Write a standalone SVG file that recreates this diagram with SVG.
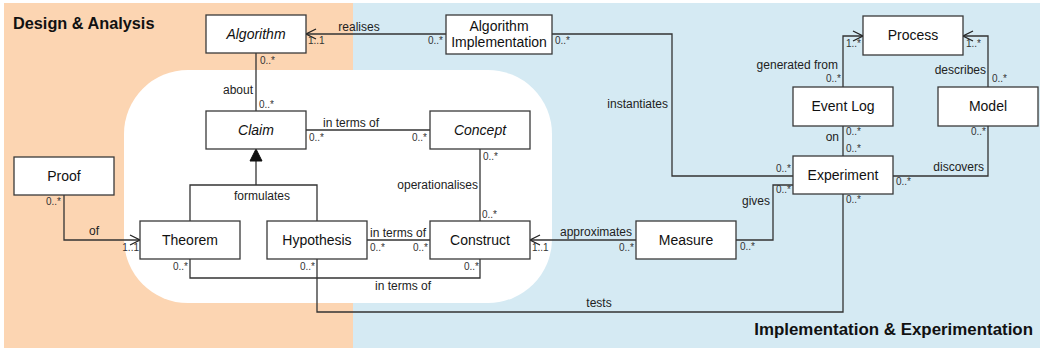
<svg xmlns="http://www.w3.org/2000/svg" width="1043" height="349" viewBox="0 0 1043 349">
  <style>
    .box { fill: #ffffff; stroke: #3a3a3a; stroke-width: 1.3; }
    .name { font-family: "Liberation Sans", Arial, sans-serif; font-size: 14px; fill: #111; text-anchor: middle; }
    .abstract { font-style: italic; }
    .link { fill: none; stroke: #333; stroke-width: 1.3; }
    .role { font-family: "Liberation Sans", Arial, sans-serif; font-size: 12px; fill: #222; }
    .mult { font-family: "Liberation Sans", Arial, sans-serif; font-size: 10px; fill: #333; }
    .end { text-anchor: end; }
    .mid { text-anchor: middle; }
    .title { font-family: "Liberation Sans", Arial, sans-serif; font-weight: bold; fill: #111; }
  </style>
  <defs>
    <marker id="open-arrow" viewBox="0 0 12 12" refX="11" refY="6" markerWidth="12" markerHeight="12" markerUnits="userSpaceOnUse" orient="auto">
      <path d="M1,1 L11,6 L1,11" fill="none" stroke="#222" stroke-width="1.3"/>
    </marker>
  </defs>

  <!-- background areas -->
  <g id="areas">
    <rect x="4" y="3" width="349" height="345" fill="#FCD5B2"/>
    <rect x="353" y="3" width="687" height="345" fill="#D5EAF3"/>
    <rect x="124" y="70" width="428" height="233" rx="64" ry="64" fill="#ffffff"/>
    <text class="title" x="13" y="29" font-size="16.3">Design &amp; Analysis</text>
    <text class="title" x="1033" y="335" font-size="16.9" text-anchor="end">Implementation &amp; Experimentation</text>
  </g>

  <!-- connectors -->
  <g id="connectors">
    <path class="link" d="M446,34 H306" marker-end="url(#open-arrow)"/>
    <path class="link" d="M552,34 H672 V176 H793"/>
    <path class="link" d="M256,53 V111"/>
    <path class="link" d="M306,130 H430"/>
    <path class="link" d="M480,149 V221"/>
    <path class="link" d="M190,221 V185 H317 V221"/>
    <path class="link" d="M256,185 V160"/>
    <polygon points="256,149 250,161 262,161" fill="#111" stroke="#111" stroke-width="1"/>
    <path class="link" d="M64,195 V240 H140" marker-end="url(#open-arrow)"/>
    <path class="link" d="M367,240 H430"/>
    <path class="link" d="M190,259 V278 H480 V259"/>
    <path class="link" d="M317,259 V312 H843 V194" stroke="#111"/>
    <path class="link" d="M636,240 H530" marker-end="url(#open-arrow)"/>
    <path class="link" d="M736,240 H773 V185 H793"/>
    <path class="link" d="M843,87 V36 H863" marker-end="url(#open-arrow)"/>
    <path class="link" d="M988,87 V36 H963" marker-end="url(#open-arrow)"/>
    <path class="link" d="M843,126 V156"/>
    <path class="link" d="M988,126 V176 H893"/>

    <!-- association names -->
    <text class="role mid" x="359" y="31">realises</text>
    <text class="role end" x="668" y="108">instantiates</text>
    <text class="role end" x="253" y="94">about</text>
    <text class="role" x="323" y="127">in terms of</text>
    <text class="role end" x="478" y="189">operationalises</text>
    <text class="role mid" x="262" y="200">formulates</text>
    <text class="role mid" x="94" y="235">of</text>
    <text class="role" x="370" y="237">in terms of</text>
    <text class="role" x="375" y="290">in terms of</text>
    <text class="role" x="560" y="236">approximates</text>
    <text class="role mid" x="599" y="307">tests</text>
    <text class="role end" x="770" y="205">gives</text>
    <text class="role end" x="984" y="171">discovers</text>
    <text class="role end" x="986" y="74">describes</text>
    <text class="role end" x="838" y="69">generated from</text>
    <text class="role end" x="839" y="141">on</text>

    <!-- multiplicities -->
    <text class="mult" x="308" y="44">1..1</text>
    <text class="mult end" x="443" y="44">0..*</text>
    <text class="mult" x="555" y="44">0..*</text>
    <text class="mult" x="260" y="64">0..*</text>
    <text class="mult" x="259" y="108">0..*</text>
    <text class="mult" x="309" y="141">0..*</text>
    <text class="mult end" x="427" y="141">0..*</text>
    <text class="mult" x="483" y="160">0..*</text>
    <text class="mult" x="482" y="218">0..*</text>
    <text class="mult end" x="61" y="205">0..*</text>
    <text class="mult end" x="139" y="251">1..1</text>
    <text class="mult end" x="188" y="270">0..*</text>
    <text class="mult end" x="315" y="270">0..*</text>
    <text class="mult" x="370" y="251">0..*</text>
    <text class="mult end" x="428" y="251">0..*</text>
    <text class="mult end" x="479" y="270">0..*</text>
    <text class="mult" x="532" y="251">1..1</text>
    <text class="mult end" x="634" y="251">0..*</text>
    <text class="mult" x="740" y="250">0..*</text>
    <text class="mult" x="776" y="193">0..*</text>
    <text class="mult end" x="791" y="172">0..*</text>
    <text class="mult" x="846" y="203">0..*</text>
    <text class="mult" x="896" y="185">0..*</text>
    <text class="mult end" x="986" y="135">0..*</text>
    <text class="mult" x="992" y="82">0..*</text>
    <text class="mult" x="966" y="47">1..*</text>
    <text class="mult" x="846" y="47">1..*</text>
    <text class="mult end" x="841" y="82">0..*</text>
    <text class="mult" x="846" y="135">0..*</text>
    <text class="mult" x="846" y="152">0..*</text>
  </g>

  <!-- classes -->
  <g id="algorithm">
    <rect class="box" x="206" y="15" width="100" height="38"/>
    <text class="name abstract" x="256" y="39">Algorithm</text>
  </g>
  <g id="algorithm-implementation">
    <rect class="box" x="446" y="15" width="106" height="39"/>
    <text class="name" x="499" y="31">Algorithm</text>
    <text class="name" x="499" y="47">Implementation</text>
  </g>
  <g id="process">
    <rect class="box" x="863" y="16" width="100" height="39"/>
    <text class="name" x="913" y="40">Process</text>
  </g>
  <g id="claim">
    <rect class="box" x="206" y="111" width="100" height="38"/>
    <text class="name abstract" x="256" y="135">Claim</text>
  </g>
  <g id="concept">
    <rect class="box" x="430" y="111" width="100" height="38"/>
    <text class="name abstract" x="480" y="135">Concept</text>
  </g>
  <g id="event-log">
    <rect class="box" x="793" y="87" width="100" height="39"/>
    <text class="name" x="843" y="111">Event Log</text>
  </g>
  <g id="model">
    <rect class="box" x="938" y="87" width="100" height="39"/>
    <text class="name" x="988" y="111">Model</text>
  </g>
  <g id="experiment">
    <rect class="box" x="793" y="156" width="100" height="38"/>
    <text class="name" x="843" y="180">Experiment</text>
  </g>
  <g id="proof">
    <rect class="box" x="14" y="157" width="100" height="38"/>
    <text class="name" x="64" y="181">Proof</text>
  </g>
  <g id="theorem">
    <rect class="box" x="140" y="221" width="100" height="38"/>
    <text class="name" x="190" y="245">Theorem</text>
  </g>
  <g id="hypothesis">
    <rect class="box" x="267" y="221" width="100" height="38"/>
    <text class="name" x="317" y="245">Hypothesis</text>
  </g>
  <g id="construct">
    <rect class="box" x="430" y="221" width="100" height="38"/>
    <text class="name" x="480" y="245">Construct</text>
  </g>
  <g id="measure">
    <rect class="box" x="636" y="221" width="100" height="38"/>
    <text class="name" x="686" y="245">Measure</text>
  </g>
</svg>
